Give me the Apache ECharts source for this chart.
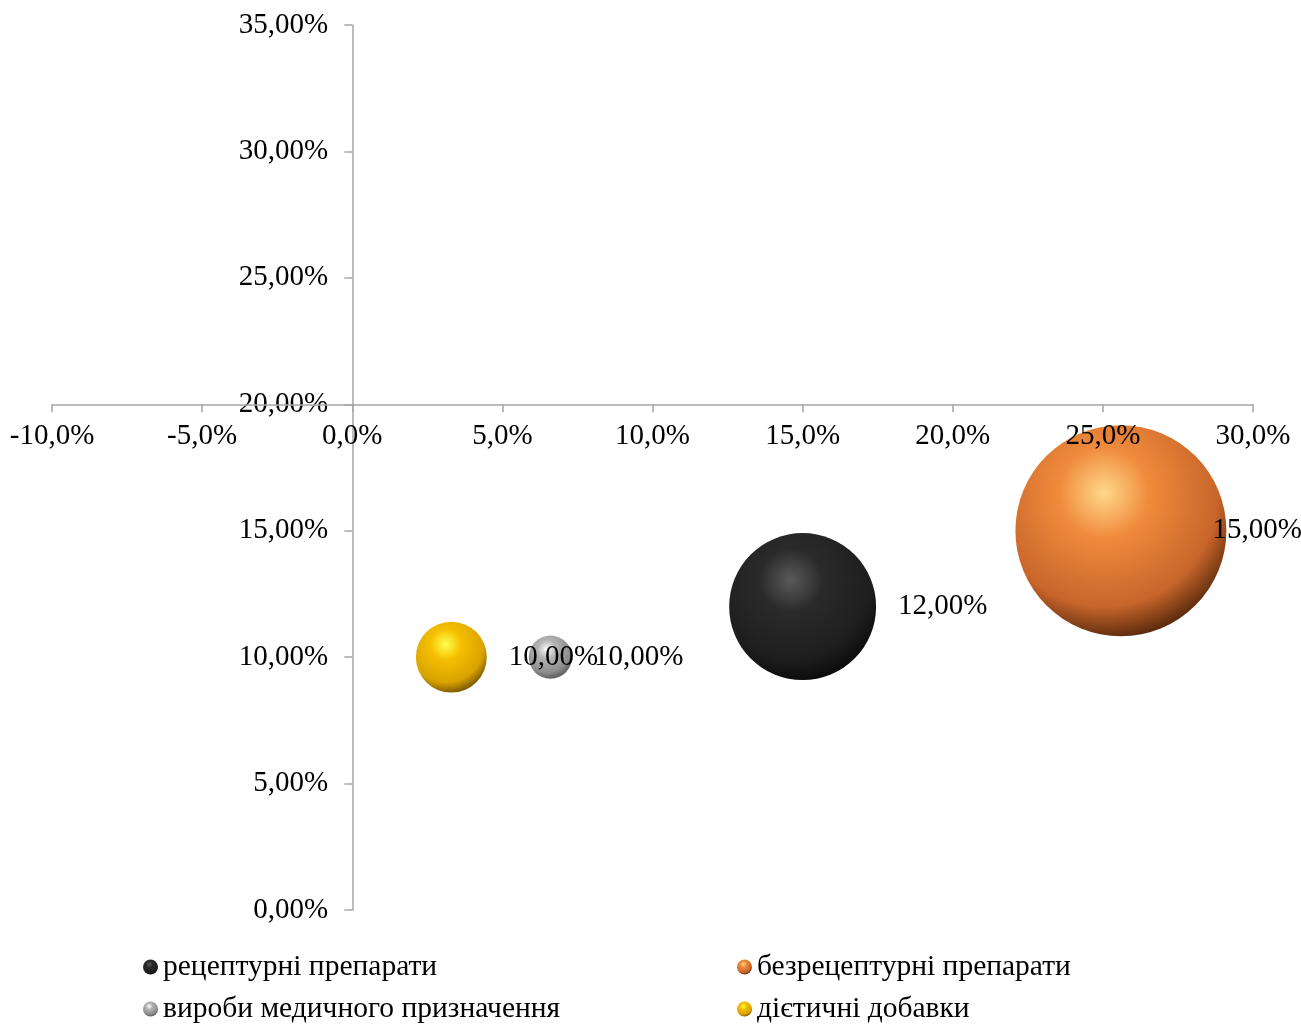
<!DOCTYPE html>
<html>
<head>
<meta charset="utf-8">
<script src="https://cdn.jsdelivr.net/npm/echarts@6/dist/echarts.min.js"></script>
<style>
	html, body { margin: 0; padding: 0; background: #fff; }
	#chart { width: 1301px; height: 1025px; }
</style>
</head>
<body>
<div id="chart"></div>
<script>
var names = ['рецептурні препарати', 'безрецептурні препарати', 'вироби медичного призначення', 'дієтичні добавки'];
var xValues = [15.0, 25.6, 6.6, 3.3];
var yValues = [12.0, 15.0, 10.0, 10.0];
var sizes = [48.5, 100, 4.2, 11.3];

//сферичні кольори: відблиск, основа, основа темніша, тінь
var shades = [
	['#5a5a5a', '#2a2a2a', '#1e1e1e', '#080808'],
	['#ffd88a', '#f08a3c', '#c8652a', '#4a2208'],
	['#ffffff', '#b4b4b4', '#8c8c8c', '#505050'],
	['#ffff50', '#f5c000', '#d9a200', '#6a4c00']
];

var font = 'Liberation Serif';
var fs = 29;
var maxSize = Math.max.apply(null, sizes);

function sphere(c) {
	return {
		type: 'radial', x: 0.42, y: 0.32, r: 0.72,
		colorStops: [
			{ offset: 0, color: c[0] },
			{ offset: 0.3, color: c[1] },
			{ offset: 0.75, color: c[2] },
			{ offset: 1, color: c[3] }
		]
	};
}

function pct(v, d) {
	return v.toFixed(d).replace('.', ',') + '%';
}

var series = names.map(function(n, i) {
	return {
		name: n,
		type: 'scatter',
		data: [{
			value: [xValues[i], yValues[i], sizes[i]],
			label: i === 1 ? { distance: -14 } : {}
		}],
		symbolSize: function(v) {
			return 211 * Math.sqrt(v[2] / maxSize);
		},
		itemStyle: { color: sphere(shades[i]), opacity: 1 },
		label: {
			show: true,
			position: 'right',
			distance: 22,
			color: '#000',
			fontFamily: font,
			fontSize: fs,
			formatter: function(p) { return pct(p.value[1], 2); }
		},
		emphasis: { disabled: true }
	};
});

var legendPos = [[143, 952], [737, 952], [143, 994], [737, 994]];
var legends = names.map(function(n, i) {
	return {
		data: [n],
		left: legendPos[i][0],
		top: legendPos[i][1],
		icon: 'circle',
		itemWidth: 15,
		itemHeight: 15,
		padding: 0,
		textStyle: { color: '#000', fontFamily: font, fontSize: 29.5 }
	};
});

var gridL = 52, gridR = 48, gridT = 25, gridB = 115;
var gridW = 1301 - gridL - gridR;
var gridH = 1025 - gridT - gridB;
var xMin = -10, xMax = 30, yMin = 0, yMax = 35;
var xCrossY = 20, yCrossX = 0;
var axisColor = '#a6a6a6';

var option = {
	animation: false,
	grid: { left: gridL, right: gridR, top: gridT, bottom: gridB, outerBoundsMode: 'none' },
	legend: legends,
	xAxis: {
		type: 'value',
		z: 10,
		min: xMin, max: xMax, interval: 5,
		position: 'bottom',
		offset: -gridH * (xCrossY - yMin) / (yMax - yMin),
		axisLine: { onZero: false, lineStyle: { color: axisColor, width: 1.5 } },
		axisTick: { show: true, length: 8, lineStyle: { color: axisColor, width: 1.5 } },
		axisLabel: {
			color: '#000', fontFamily: font, fontSize: fs, margin: 18,
			formatter: function(v) { return pct(v, 1); }
		},
		splitLine: { show: false }
	},
	yAxis: {
		type: 'value',
		min: yMin, max: yMax, interval: 5,
		position: 'left',
		offset: -gridW * (yCrossX - xMin) / (xMax - xMin),
		axisLine: { show: true, onZero: false, lineStyle: { color: axisColor, width: 1.5 } },
		axisTick: { show: true, length: 8, lineStyle: { color: axisColor, width: 1.5 } },
		axisLabel: {
			color: '#000', fontFamily: font, fontSize: fs, margin: 24,
			formatter: function(v) { return pct(v, 2); }
		},
		splitLine: { show: false }
	},
	series: series
};

var chart = echarts.init(document.getElementById('chart'));
chart.setOption(option);
</script>
</body>
</html>
